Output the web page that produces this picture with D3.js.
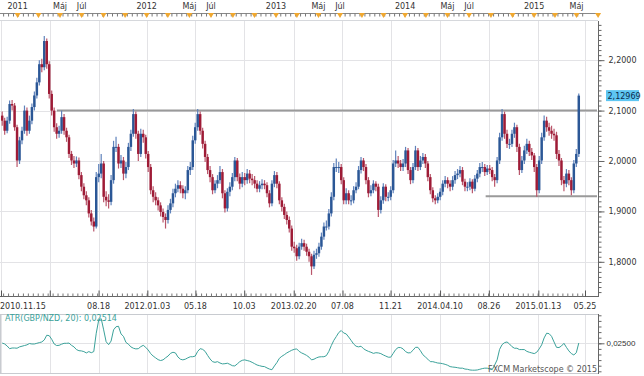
<!DOCTYPE html>
<html><head><meta charset="utf-8">
<script src="https://cdn.jsdelivr.net/npm/d3@7"></script>
<style>
body{margin:0;background:#fff;}
svg{display:block;font-family:"DejaVu Sans",Verdana,sans-serif;}
</style></head><body>
<svg id="c" width="644" height="376"></svg>
<script>
// ---------------- DATA ----------------
const firstWeek = "2010-11-15";
const lastWeek = "2015-05-04";
const firstOpen = 2.090;
const closes = [
2.080,2.060,2.080,2.113,2.110,2.067,2.001,2.041,2.060,2.100,
2.060,2.080,2.107,2.130,2.156,2.192,2.186,2.238,2.192,2.133,
2.100,2.067,2.054,2.060,2.087,2.060,2.047,2.014,2.001,1.995,
2.001,1.972,1.949,1.932,1.922,1.896,1.880,1.870,1.968,1.975,
1.995,1.929,1.922,1.919,1.962,2.028,2.028,1.995,2.001,1.975,
1.988,2.028,2.054,2.093,2.054,2.014,2.054,2.047,2.014,1.988,
1.942,1.929,1.922,1.912,1.899,1.889,1.883,1.903,1.916,1.936,
1.945,1.952,1.945,1.936,1.942,1.982,1.988,2.041,2.067,2.093,
2.060,2.034,2.008,1.982,1.968,1.942,1.955,1.962,1.978,1.936,
1.906,1.939,1.949,1.968,2.001,1.968,1.955,1.968,1.962,1.975,
1.965,1.962,1.955,1.945,1.952,1.955,1.952,1.936,1.916,1.955,
1.972,1.955,1.922,1.909,1.893,1.883,1.866,1.830,1.827,1.811,
1.830,1.837,1.830,1.820,1.811,1.791,1.814,1.817,1.830,1.850,
1.870,1.870,1.896,1.929,1.988,1.988,1.988,1.962,1.922,1.936,
1.922,1.922,1.942,1.949,1.982,2.001,1.988,1.962,1.936,1.942,
1.955,1.949,1.903,1.922,1.949,1.929,1.929,1.942,1.995,2.001,
1.995,1.988,1.995,2.021,1.982,1.962,1.988,2.021,1.988,2.001,
2.008,1.995,1.968,1.942,1.926,1.922,1.929,1.939,1.955,1.962,
1.955,1.949,1.962,1.972,1.975,1.982,1.959,1.949,1.949,1.959,
1.945,1.965,1.975,1.988,1.988,1.978,1.985,1.982,1.968,1.962,
2.001,2.047,2.093,2.054,2.034,2.034,2.054,2.067,2.028,1.982,
2.001,2.021,2.034,2.018,2.011,1.988,1.942,2.001,2.047,2.080,
2.067,2.060,2.054,2.051,2.014,2.001,1.962,1.955,1.975,1.962,
1.942,1.995,2.014,2.12969];
const highs = [
2.098,2.086,2.088,2.120,2.121,2.115,2.072,2.048,2.068,2.110,
2.106,2.090,2.114,2.138,2.165,2.200,2.203,2.248,2.243,2.198,
2.140,2.106,2.075,2.070,2.100,2.093,2.066,2.052,2.020,2.010,
2.009,2.007,1.978,1.956,1.940,1.928,1.903,1.888,1.978,1.994,
2.014,2.000,1.940,1.934,1.972,2.040,2.048,2.034,2.012,2.008,
1.998,2.036,2.062,2.103,2.098,2.060,2.064,2.062,2.052,2.020,
1.994,1.950,1.938,1.928,1.918,1.906,1.896,1.912,1.925,1.945,
1.955,1.962,1.960,1.952,1.950,1.990,1.998,2.050,2.076,2.103,
2.098,2.066,2.040,2.014,1.990,1.974,1.962,1.972,1.990,1.984,
1.942,1.946,1.958,1.976,2.008,2.006,1.975,1.978,1.976,1.984,
1.982,1.974,1.970,1.962,1.960,1.964,1.962,1.958,1.942,1.962,
1.980,1.978,1.960,1.928,1.915,1.900,1.890,1.872,1.840,1.834,
1.838,1.846,1.844,1.836,1.826,1.816,1.822,1.826,1.838,1.858,
1.878,1.882,1.905,1.938,1.996,2.005,1.998,1.994,1.968,1.946,
1.942,1.932,1.950,1.958,1.990,2.008,2.006,1.994,1.968,1.952,
1.962,1.960,1.955,1.930,1.956,1.954,1.938,1.950,2.002,2.021,
2.010,2.002,2.004,2.028,2.026,1.988,1.996,2.030,2.026,2.010,
2.016,2.014,2.000,1.974,1.948,1.932,1.936,1.946,1.962,1.970,
1.968,1.962,1.970,1.980,1.984,1.990,1.988,1.965,1.958,1.966,
1.964,1.972,1.982,1.996,1.998,1.994,1.992,1.992,1.988,1.974,
2.008,2.056,2.103,2.098,2.062,2.044,2.062,2.076,2.072,2.034,
2.010,2.030,2.044,2.040,2.026,2.016,1.994,2.010,2.056,2.090,
2.088,2.076,2.070,2.064,2.058,2.022,2.006,1.970,1.984,1.982,
1.968,2.002,2.024,2.134];
const lows = [
2.070,2.052,2.055,2.074,2.100,2.060,1.988,1.994,2.033,2.054,
2.050,2.054,2.073,2.100,2.124,2.150,2.176,2.180,2.183,2.124,
2.090,2.058,2.044,2.046,2.054,2.052,2.038,2.006,1.992,1.986,
1.988,1.964,1.940,1.924,1.912,1.888,1.872,1.860,1.866,1.958,
1.966,1.918,1.910,1.906,1.912,1.955,2.018,1.985,1.986,1.962,
1.966,1.982,2.020,2.048,2.044,2.000,2.008,2.036,2.005,1.978,
1.934,1.918,1.912,1.902,1.890,1.878,1.866,1.876,1.896,1.908,
1.928,1.938,1.936,1.926,1.924,1.936,1.972,1.982,2.034,2.060,
2.052,2.025,1.998,1.974,1.958,1.934,1.936,1.946,1.955,1.926,
1.898,1.900,1.930,1.942,1.960,1.960,1.944,1.948,1.952,1.955,
1.956,1.952,1.946,1.938,1.938,1.944,1.944,1.928,1.908,1.910,
1.948,1.946,1.914,1.900,1.885,1.874,1.858,1.822,1.818,1.802,
1.805,1.824,1.822,1.812,1.800,1.774,1.786,1.806,1.810,1.824,
1.844,1.862,1.864,1.890,1.922,1.978,1.976,1.954,1.914,1.914,
1.914,1.912,1.916,1.936,1.944,1.975,1.980,1.954,1.928,1.930,
1.936,1.940,1.889,1.896,1.915,1.920,1.920,1.922,1.936,1.988,
1.986,1.980,1.980,1.988,1.974,1.954,1.956,1.982,1.980,1.982,
1.994,1.986,1.960,1.934,1.918,1.914,1.916,1.922,1.932,1.948,
1.946,1.940,1.942,1.955,1.964,1.968,1.952,1.940,1.940,1.942,
1.936,1.940,1.958,1.968,1.978,1.970,1.972,1.974,1.960,1.949,
1.956,1.994,2.040,2.044,2.026,2.024,2.028,2.046,2.018,1.972,
1.976,1.994,2.014,2.010,2.002,1.978,1.929,1.936,1.994,2.040,
2.058,2.050,2.044,2.040,2.004,1.990,1.952,1.940,1.948,1.952,
1.932,1.936,1.988,2.008];
const atr = [
.0251,.0247,.0238,.0226,.0229,.0229,.0228,.0234,.0237,.0240,
.0243,.0249,.0247,.0247,.0250,.0253,.0256,.0265,.0286,.0284,
.0268,.0247,.0240,.0241,.0246,.0250,.0250,.0251,.0241,.0234,
.0222,.0217,.0216,.0213,.0207,.0213,.0208,.0213,.0295,.0354,
.0360,.0310,.0257,.0244,.0260,.0310,.0324,.0326,.0292,.0281,
.0254,.0246,.0234,.0228,.0225,.0226,.0235,.0241,.0232,.0220,
.0204,.0193,.0185,.0177,.0173,.0176,.0185,.0193,.0205,.0210,
.0207,.0189,.0179,.0176,.0179,.0185,.0190,.0190,.0193,.0214,
.0226,.0223,.0214,.0196,.0180,.0168,.0165,.0168,.0162,.0158,
.0159,.0161,.0156,.0150,.0149,.0158,.0168,.0174,.0176,.0173,
.0170,.0165,.0159,.0153,.0150,.0147,.0146,.0140,.0135,.0132,
.0149,.0164,.0183,.0192,.0199,.0207,.0213,.0219,.0223,.0225,
.0214,.0207,.0202,.0196,.0188,.0176,.0179,.0185,.0189,.0190,
.0190,.0195,.0214,.0240,.0263,.0280,.0298,.0307,.0296,.0292,
.0278,.0263,.0247,.0237,.0234,.0237,.0226,.0219,.0214,.0210,
.0205,.0208,.0207,.0204,.0198,.0193,.0188,.0188,.0205,.0222,
.0231,.0231,.0225,.0213,.0207,.0208,.0219,.0232,.0232,.0217,
.0199,.0189,.0179,.0168,.0168,.0165,.0162,.0161,.0159,.0156,
.0152,.0146,.0144,.0143,.0141,.0139,.0139,.0135,.0134,.0131,
.0130,.0130,.0131,.0134,.0137,.0139,.0139,.0135,.0132,.0153,
.0176,.0223,.0244,.0253,.0256,.0247,.0235,.0228,.0228,.0222,
.0222,.0222,.0214,.0210,.0207,.0204,.0210,.0225,.0243,.0274,
.0295,.0293,.0281,.0256,.0232,.0231,.0238,.0250,.0232,.0216,
.0204,.0198,.0208,.02514];
const priceTicks = [1.8, 1.9, 2.0, 2.1, 2.2];
const priceTickLabels = ["1,8000","1,9000","2,0000","2,1000","2,2000"];
const lastPriceLabel = "2,12969";
const resistance = {level: 2.1000, from: "2011-04-22"};
const support = {level: 1.9300, from: "2014-08-17"};
const dateTicks = ["2010-11-15","2011-04-02","2011-08-18","2012-01-03","2012-05-18","2012-10-03","2013-02-20","2013-07-08","2013-11-21","2014-04-10","2014-08-26","2015-01-13","2015-05-25"];
const dateTickLabels = ["2010.11.15","","08.18","2012.01.03","05.18","10.03","2013.02.20","07.08","11.21","2014.04.10","08.26","2015.01.13","05.25"];
const monthMarks = ["2011-01-01","2011-03-01","2011-05-01","2011-07-01","2011-09-01","2011-11-01","2012-01-01","2012-03-01","2012-05-01","2012-07-01","2012-09-01","2012-11-01","2013-01-01","2013-03-01","2013-05-01","2013-07-01","2013-09-01","2013-11-01","2014-01-01","2014-03-01","2014-05-01","2014-07-01","2014-09-01","2014-11-01","2015-01-01","2015-03-01","2015-05-01","2015-07-01"];
const monthLabels = ["2011","","Máj","Júl","","","2012","","Máj","Júl","","","2013","","Máj","Júl","","","2014","","Máj","Júl","","","2015","","Máj",""];
const atrTick = 0.025, atrTickLabel = "0,02500";
const atrTitle = "ATR(GBP/NZD, 20): 0,02514";
const credit = "FXCM Marketscope © 2015";

// ---------------- LAYOUT ----------------
const P = {left:0, right:598, top:21, bottom:296};
const A = {top:314, bottom:373};
const svg = d3.select("#c");
const parse = d3.utcParse("%Y-%m-%d");
const weeks = d3.utcMonday.range(parse(firstWeek), d3.utcDay.offset(parse(lastWeek),1));
const x = d3.scaleUtc().domain([parse("2010-11-15"), parse("2015-05-25")]).range([1, 585]);
const y = d3.scaleLinear().domain([1.7322, 2.2777]).range([P.bottom, P.top]);
const ya = d3.scaleLinear().domain([0.01174, 0.03808]).range([A.bottom, A.top]);
const cx = d => x(d3.utcDay.offset(d, 2)) + 0.5;
const bw = x(parse("2010-11-22")) - x(parse("2010-11-15"));

const candles = weeks.map((d,i)=>({d, o: i? closes[i-1] : firstOpen, c: closes[i], h: highs[i], l: lows[i]}));

// grids
const gridC = "#e3e3e6";
const gx = dateTicks.map(parse);
svg.append("g").selectAll("line").data(gx).join("line")
  .attr("x1",d=>Math.round(x(d))+0.5).attr("x2",d=>Math.round(x(d))+0.5)
  .attr("y1",P.top).attr("y2",P.bottom).attr("stroke",gridC);
svg.append("g").selectAll("line").data(gx).join("line")
  .attr("x1",d=>Math.round(x(d))+0.5).attr("x2",d=>Math.round(x(d))+0.5)
  .attr("y1",A.top).attr("y2",A.bottom).attr("stroke",gridC);
svg.append("g").selectAll("line").data(priceTicks).join("line")
  .attr("x1",P.left).attr("x2",P.right)
  .attr("y1",d=>Math.round(y(d))+0.5).attr("y2",d=>Math.round(y(d))+0.5).attr("stroke",gridC);
svg.append("line").attr("x1",0).attr("x2",P.right)
  .attr("y1",Math.round(ya(atrTick))+0.5).attr("y2",Math.round(ya(atrTick))+0.5).attr("stroke",gridC);

// frames
svg.append("line").attr("x1",0).attr("x2",P.right).attr("y1",P.top-0.5).attr("y2",P.top-0.5).attr("stroke","#d6d8dc");
svg.append("line").attr("x1",0).attr("x2",P.right+0.5).attr("y1",P.bottom+0.5).attr("y2",P.bottom+0.5).attr("stroke","#666");
svg.append("line").attr("x1",P.right+0.5).attr("x2",P.right+0.5).attr("y1",P.top).attr("y2",P.bottom+1).attr("stroke","#666");
svg.append("rect").attr("x",0.5).attr("y",A.top+0.5).attr("width",P.right).attr("height",A.bottom-A.top).attr("fill","none").attr("stroke","#c8cbd0");
svg.append("line").attr("x1",P.right+0.5).attr("x2",P.right+0.5).attr("y1",A.top).attr("y2",A.bottom+1).attr("stroke","#666");

// support / resistance
const lvl = [resistance, support];
svg.append("g").selectAll("line").data(lvl).join("line")
  .attr("x1",d=>x(parse(d.from))).attr("x2",P.right-1)
  .attr("y1",d=>y(d.level)).attr("y2",d=>y(d.level))
  .attr("stroke","#9a9a9a").attr("stroke-width",2);

// candles
const up = "#2b5796", dn = "#9e1b36";
const cg = svg.append("g");
cg.selectAll("line.w").data(candles).join("line").attr("class","w")
  .attr("x1",d=>cx(d.d)).attr("x2",d=>cx(d.d))
  .attr("y1",d=>y(d.h)).attr("y2",d=>y(d.l))
  .attr("stroke",d=>d.c>=d.o?"#5f82bb":"#b9566b").attr("stroke-width",1.2);
cg.selectAll("rect").data(candles).join("rect")
  .attr("x",d=>cx(d.d)-bw/2).attr("width",bw)
  .attr("y",d=>y(Math.max(d.o,d.c)))
  .attr("height",d=>Math.max(1, Math.abs(y(d.o)-y(d.c))))
  .attr("fill",d=>d.c>=d.o?up:dn);

// right price axis
svg.append("g").attr("transform",`translate(${P.right+0.5},0)`)
  .call(d3.axisRight(y).tickValues(d3.range(1.74,2.28,0.01)).tickSize(3).tickFormat(""))
  .call(g=>{g.select(".domain").remove(); g.selectAll("line").attr("stroke","#666");});
svg.append("g").attr("transform",`translate(${P.right+0.5},0)`)
  .call(d3.axisRight(y).tickValues(priceTicks).tickSize(6).tickPadding(4).tickFormat((d,i)=>priceTickLabels[i]))
  .call(g=>{g.select(".domain").remove(); g.selectAll("line").attr("stroke","#666");
    g.selectAll("text").attr("fill","#333").attr("font-size",8).attr("font-family","DejaVu Sans");});
// last price tag
const ly = y(closes[closes.length-1]);
svg.append("rect").attr("x",606).attr("y",ly-5.5).attr("width",33).attr("height",11).attr("fill","#5ec6f2");
svg.append("text").attr("x",607.5).attr("y",ly+3).attr("font-size",8).attr("fill","#0d2b4a").text(lastPriceLabel);

// bottom date axis
svg.append("g").attr("transform",`translate(0,${P.bottom+0.5})`)
  .call(d3.axisTop(x).ticks(d3.utcWeek.every(2)).tickSize(3).tickFormat(""))
  .call(g=>{g.select(".domain").remove(); g.selectAll("line").attr("stroke","#777");});
svg.append("g").attr("transform",`translate(0,${P.bottom+0.5})`)
  .call(d3.axisTop(x).tickValues(gx).tickSize(6).tickFormat(""))
  .call(g=>{g.select(".domain").remove(); g.selectAll("line").attr("stroke","#555");});
svg.append("g").selectAll("text").data(gx).join("text")
  .attr("x",(d,i)=> i===0 ? 0 : x(d)).attr("y",309)
  .attr("text-anchor",(d,i)=> i===0 ? "start" : "middle")
  .attr("font-size",8).attr("fill","#333").text((d,i)=>dateTickLabels[i]);

// top month ruler
const mm = monthMarks.map(parse);
svg.append("line").attr("x1",0).attr("x2",P.right).attr("y1",13.5).attr("y2",13.5).attr("stroke","#888");
svg.append("g").attr("transform","translate(0,13.5)")
  .call(d3.axisBottom(x).ticks(d3.utcWeek.every(2)).tickSize(3).tickFormat(""))
  .call(g=>{g.select(".domain").remove(); g.selectAll("line").attr("stroke","#777");});
svg.append("g").selectAll("path").data(mm).join("path")
  .attr("transform",d=>`translate(${x(d)},13)`)
  .attr("d","M-3,0L3,0L0,5Z").attr("fill","#f0a830");
svg.append("g").selectAll("text").data(mm).join("text")
  .attr("x",d=>x(d)).attr("y",9).attr("text-anchor","middle")
  .attr("font-size",8).attr("fill","#333").text((d,i)=>monthLabels[i]);

// ATR panel
svg.append("path").datum(weeks.map((d,i)=>({d,v:atr[i]})))
  .attr("d",d3.line().x(d=>cx(d.d)).y(d=>ya(d.v)))
  .attr("fill","none").attr("stroke","#3ba29a").attr("stroke-width",1);
svg.append("g").attr("transform",`translate(${P.right+0.5},0)`)
  .call(d3.axisRight(ya).tickValues(d3.range(0.0125,0.038,0.0025)).tickSize(3).tickFormat(""))
  .call(g=>{g.select(".domain").remove(); g.selectAll("line").attr("stroke","#666");});
svg.append("g").attr("transform",`translate(${P.right+0.5},0)`)
  .call(d3.axisRight(ya).tickValues([atrTick]).tickSize(6).tickPadding(2).tickFormat(()=>atrTickLabel))
  .call(g=>{g.select(".domain").remove(); g.selectAll("line").attr("stroke","#666");
    g.selectAll("text").attr("fill","#333").attr("font-size",8);});
svg.append("text").attr("x",5).attr("y",321).attr("font-size",8).attr("fill","#3ba29a").text(atrTitle);
svg.append("text").attr("x",597).attr("y",372).attr("text-anchor","end").attr("font-size",8).attr("fill","#555").text(credit);
</script></body></html>
